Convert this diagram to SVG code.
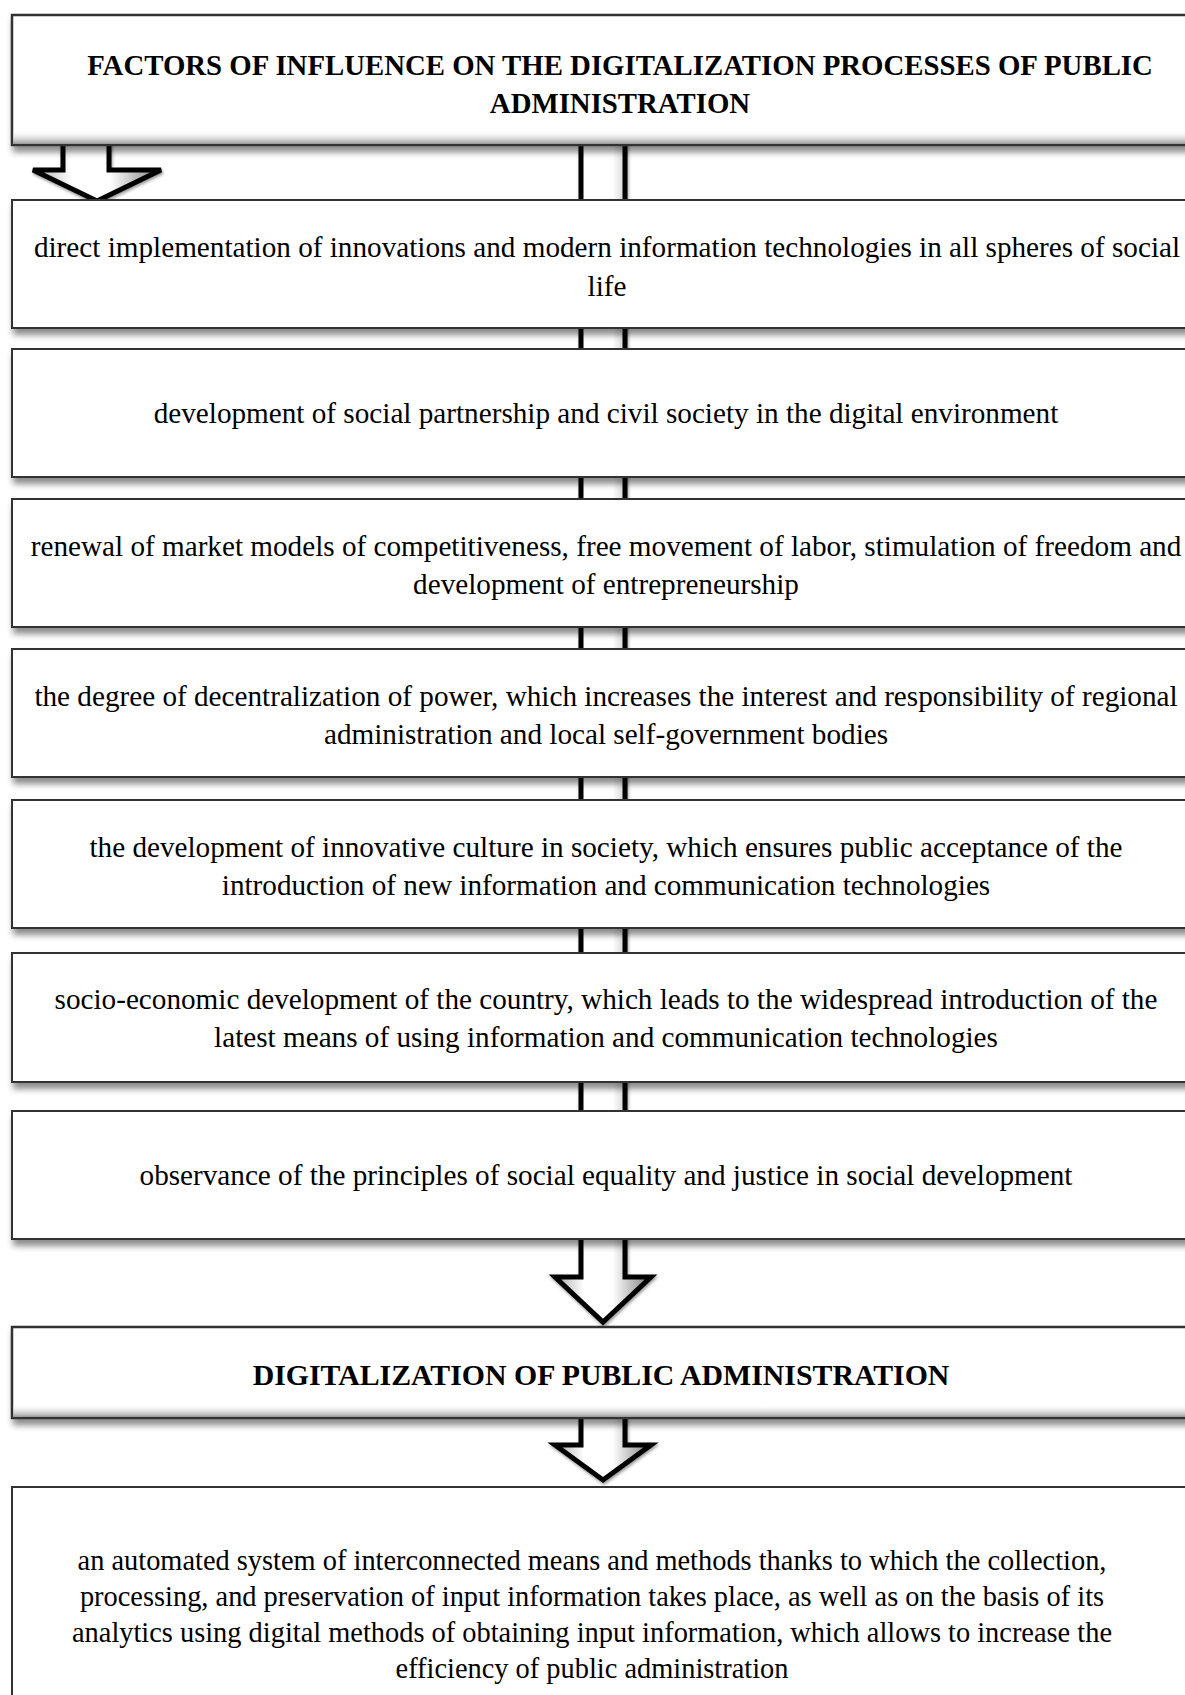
<svg xmlns="http://www.w3.org/2000/svg" width="1185" height="1695" viewBox="0 0 1185 1695">
<defs>
<style>
.box{fill:#fff;stroke:#333;stroke-width:2}
.hbox{fill:#fff;stroke:#333;stroke-width:2.5}
.t{font-family:"Liberation Serif","Times New Roman",serif;font-size:29.2px;fill:#000;text-anchor:middle}
.tr{font-family:"Liberation Serif","Times New Roman",serif;font-size:28.4px;fill:#000;text-anchor:middle}
.h{font-family:"Liberation Serif","Times New Roman",serif;font-weight:bold;fill:#000;text-anchor:middle}
.arrow{fill:url(#ag);stroke:#000;stroke-width:5;stroke-linejoin:miter}
.bevel{fill:url(#bv)}
</style>
<filter id="sh" x="-5%" y="-20%" width="115%" height="160%">
<feDropShadow dx="2" dy="6" stdDeviation="3" flood-color="#000" flood-opacity="0.45"/>
</filter>
<filter id="ash" x="-20%" y="-10%" width="140%" height="130%">
<feDropShadow dx="1" dy="2" stdDeviation="1.5" flood-color="#000" flood-opacity="0.4"/>
</filter>
<linearGradient id="ag" x1="0" y1="0" x2="1" y2="0">
<stop offset="0" stop-color="#a8a8a8"/>
<stop offset="0.3" stop-color="#fff"/>
<stop offset="0.6" stop-color="#fff"/>
<stop offset="1" stop-color="#7a7a7a"/>
</linearGradient>
<linearGradient id="bv" x1="0" y1="0" x2="0" y2="1">
<stop offset="0" stop-color="#fff" stop-opacity="0"/>
<stop offset="1" stop-color="#999"/>
</linearGradient>
</defs>

<g id="connectors">
<path id="arrow-main" class="arrow" d="M581,140 L625,140 L625,1277 L651,1277 L603,1322 L555,1277 L581,1277 Z" filter="url(#ash)"/>
<path id="arrow-left" class="arrow" d="M63,140 L109,140 L109,170 L161,170 L97,201 L33,170 L63,170 Z" filter="url(#ash)"/>
<path id="arrow-bottom" class="arrow" d="M581,1416 L625,1416 L625,1445 L651,1445 L603,1480 L555,1445 L581,1445 Z" filter="url(#ash)"/>
</g>

<g id="n-title">
<rect class="hbox" x="12" y="15" width="1230" height="130" filter="url(#sh)"/>
<rect class="bevel" x="13" y="130" width="1228" height="14"/>
<text class="h" font-size="28.8" x="620" y="75">FACTORS OF INFLUENCE ON THE DIGITALIZATION PROCESSES OF PUBLIC</text>
<text class="h" font-size="28.8" x="620" y="113">ADMINISTRATION</text>
</g>

<g id="n1">
<rect class="box" x="12" y="200" width="1200" height="128" filter="url(#sh)"/>
<text class="t" x="607" y="257">direct implementation of innovations and modern information technologies in all spheres of social</text>
<text class="t" x="607" y="296">life</text>
</g>

<g id="n2">
<rect class="box" x="12" y="349" width="1200" height="128" filter="url(#sh)"/>
<text class="t" x="606" y="423">development of social partnership and civil society in the digital environment</text>
</g>

<g id="n3">
<rect class="box" x="12" y="499" width="1200" height="128" filter="url(#sh)"/>
<text class="t" x="606" y="556">renewal of market models of competitiveness, free movement of labor, stimulation of freedom and</text>
<text class="t" x="606" y="594">development of entrepreneurship</text>
</g>

<g id="n4">
<rect class="box" x="12" y="649" width="1200" height="128" filter="url(#sh)"/>
<text class="t" x="606" y="706">the degree of decentralization of power, which increases the interest and responsibility of regional</text>
<text class="t" x="606" y="744">administration and local self-government bodies</text>
</g>

<g id="n5">
<rect class="box" x="12" y="800" width="1200" height="128" filter="url(#sh)"/>
<text class="t" x="606" y="857">the development of innovative culture in society, which ensures public acceptance of the</text>
<text class="t" x="606" y="895">introduction of new information and communication technologies</text>
</g>

<g id="n6">
<rect class="box" x="12" y="953" width="1200" height="129" filter="url(#sh)"/>
<text class="t" x="606" y="1009">socio-economic development of the country, which leads to the widespread introduction of the</text>
<text class="t" x="606" y="1047">latest means of using information and communication technologies</text>
</g>

<g id="n7">
<rect class="box" x="12" y="1111" width="1200" height="128" filter="url(#sh)"/>
<text class="t" x="606" y="1185">observance of the principles of social equality and justice in social development</text>
</g>

<g id="n-digital">
<rect class="hbox" x="12" y="1327" width="1200" height="91" filter="url(#sh)"/>
<rect class="bevel" x="13" y="1404" width="1198" height="13"/>
<text class="h" font-size="29.8" x="601" y="1385">DIGITALIZATION OF PUBLIC ADMINISTRATION</text>
</g>

<g id="n-result">
<rect class="box" x="12" y="1487" width="1200" height="240"/>
<text class="tr" x="592" y="1570">an automated system of interconnected means and methods thanks to which the collection,</text>
<text class="tr" x="592" y="1606">processing, and preservation of input information takes place, as well as on the basis of its</text>
<text class="tr" x="592" y="1642">analytics using digital methods of obtaining input information, which allows to increase the</text>
<text class="tr" x="592" y="1678">efficiency of public administration</text>
</g>
</svg>
